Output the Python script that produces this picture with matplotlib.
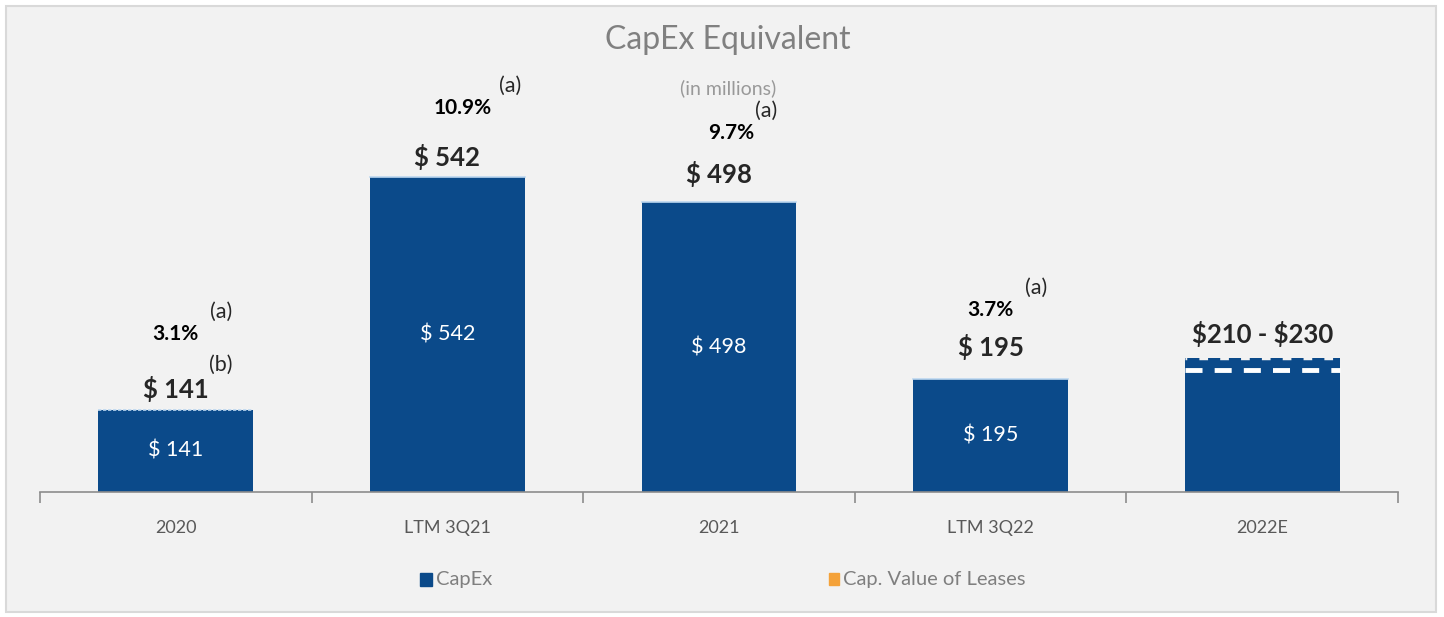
import matplotlib.pyplot as plt
from matplotlib.patches import Rectangle

plt.rcParams['font.family'] = ['Lato', 'DejaVu Sans']

categories = ["2020", "LTM 3Q21", "2021", "LTM 3Q22", "2022E"]
capex = [141, 542, 498, 195, 230]
range_low = 210
top_labels = ["\\$ 141", "\\$ 542", "\\$ 498", "\\$ 195", "\\$210 - \\$230"]
inner_labels = ["\\$ 141", "\\$ 542", "\\$ 498", "\\$ 195", ""]
pct_labels = ["3.1%", "10.9%", "9.7%", "3.7%", ""]

bar_color = "#0b4a8a"
text_dark = "#262626"
gray = "#808080"

fig = plt.figure(figsize=(14.44, 6.17), dpi=100)
fig.patch.set_facecolor("white")
fig.add_artist(Rectangle((6 / 1444, 5 / 617), 1430 / 1444, 606 / 617,
                         transform=fig.transFigure, facecolor="#f2f2f2",
                         edgecolor="#d9d9d9", lw=1.5, zorder=-10))

ax = fig.add_axes([40 / 1444, 125 / 617, 1358 / 1444, 472 / 617])
ax.set_facecolor("none")
x = range(len(categories))
bars = ax.bar(x, capex, width=0.57, color=bar_color, zorder=2)
ax.set_xlim(-0.5, 4.5)
ax.set_ylim(0, 811)

# thin light edge on top of bars
for i, v in enumerate(capex[:4]):
    ax.plot([i - 0.285, i + 0.285], [v, v], color="#bcd7f0", lw=1.2,
            ls=(0, (2, 1)) if i == 0 else "-", zorder=3)

# 2022E range: dashed line at low end, dashed top edge
ax.plot([4 - 0.285, 4 + 0.285], [range_low, range_low], color="white",
        lw=3.5, ls=(0, (3.5, 2.5)), zorder=3)
ax.plot([4 - 0.285, 4 + 0.285], [capex[4] + 1, capex[4] + 1], color="#f2f2f2",
        lw=2.5, ls=(2, (2.5, 3.5)), zorder=3)

top_off = [21, 20, 28, 32, 24]
pct_dx = [0, 15, 12, 0]
sup_dx = [45, 63, 47, 46]
for i, v in enumerate(capex):
    if inner_labels[i]:
        ax.text(i, v / 2, inner_labels[i], ha="center", va="center",
                color="white", fontsize=15.5)
    ax.annotate(top_labels[i], (i, v), xytext=(0, top_off[i]), textcoords="offset pixels",
                ha="center", va="center", fontsize=18.5, fontweight="bold",
                color=text_dark)
    if pct_labels[i]:
        poff = 76 if i == 0 else 69
        ax.annotate(pct_labels[i], (i, v), xytext=(pct_dx[i], poff), textcoords="offset pixels",
                    ha="center", va="center", fontsize=15, fontweight="bold",
                    color="black")
        ax.annotate("(a)", (i, v), xytext=(sup_dx[i], poff + 22), textcoords="offset pixels",
                    ha="center", va="center", fontsize=15.5, color=text_dark)
ax.annotate("(b)", (0, capex[0]), xytext=(45, 45), textcoords="offset pixels",
            ha="center", va="center", fontsize=15.5, color=text_dark)

for s in ["top", "right", "left"]:
    ax.spines[s].set_visible(False)
ax.spines["bottom"].set_color("#8c8c8c")
ax.spines["bottom"].set_linewidth(1.2)
ax.set_yticks([])
ax.set_xticks(x)
ax.set_xticklabels(categories, fontsize=13, color="#595959")
ax.tick_params(axis="x", length=0, pad=20)
ax.set_xticks([i - 0.5 for i in range(len(categories) + 1)], minor=True)
ax.tick_params(axis="x", which="minor", length=8, color="#8c8c8c", width=1.2)

fig.text(728 / 1444, 1 - 40 / 617, "CapEx Equivalent", ha="center", va="center",
         fontsize=23, color=gray)
fig.text(728 / 1444, 1 - 88 / 617, "(in millions)", ha="center", va="center",
         fontsize=14, color="#999999")

# legend
fig.add_artist(Rectangle((420 / 1444, 1 - 586 / 617), 12 / 1444, 13 / 617,
                         transform=fig.transFigure, color=bar_color))
fig.text(436 / 1444, 1 - 580 / 617, "CapEx", ha="left", va="center",
         fontsize=14.5, color="#7f7f7f")
fig.add_artist(Rectangle((829 / 1444, 1 - 585 / 617), 10 / 1444, 12 / 617,
                         transform=fig.transFigure, color="#f4a23a"))
fig.text(843 / 1444, 1 - 580 / 617, "Cap. Value of Leases", ha="left", va="center",
         fontsize=14.5, color="#7f7f7f")

fig.savefig("out.png", dpi=100)
